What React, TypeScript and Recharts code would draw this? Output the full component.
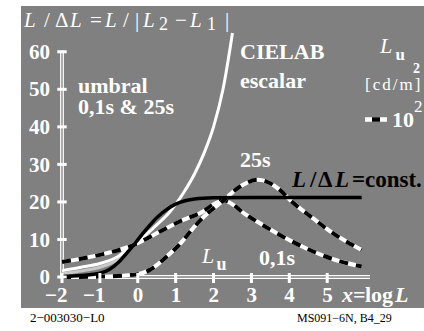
import React from 'react';
import { LineChart, Line, XAxis, YAxis } from 'recharts';

const xTicks = [-2, -1, 0, 1, 2, 3, 4, 5];
const xTickLabels = ['−2', '−1', '0', '1', '2', '3', '4', '5'];
const yTicks = [0, 10, 20, 30, 40, 50, 60];

const cielabX = [-2, -1.5, -1, -0.5, -0.2, 0.15, 0.5, 0.85, 1.2, 1.5, 1.75, 2, 2.25, 2.5];
const cielabY = [1.7, 2.6, 3.6, 5.6, 8.1, 10.7, 13.9, 17.4, 22.3, 27.5, 33, 40, 50, 65];

const grayX = [-2, -1.5, -1, -0.5, -0.2];
const grayY = [0.9, 1.6, 2.6, 4.8, 7.6];

const constX = [-2, -1.5, -1, -0.75, -0.5, -0.25, 0, 0.25, 0.5, 0.75, 1, 1.25, 1.5, 2, 3, 4, 5, 5.91];
const constY = [0.1, 0.4, 1.0, 2.0, 4.0, 6.8, 9.9, 13.0, 15.8, 17.9, 19.4, 20.3, 20.8, 21.1, 21.2, 21.2, 21.2, 21.2];

const s01X = [-2, -1, -0.12, 0.59, 1.11, 1.64, 2.26, 2.87, 3.75, 4.63, 5.2, 5.91];
const s01Y = [4.0, 5.9, 8.5, 12.1, 14.8, 17, 20.4, 16.5, 11.2, 6.8, 4.6, 2.8];

const s25X = [-2, -1, -0.03, 0.32, 0.76, 1.11, 1.42, 1.64, 2.26, 2.7, 3.18, 3.75, 4.02, 4.63, 5.16, 5.91];
const s25Y = [0, 0.1, 0.7, 1.9, 5.4, 8.8, 12.5, 15, 20.4, 24.1, 25.9, 23.2, 20.5, 15.6, 11.6, 7.2];

const xAxisX = [-2, 6.13];
const xAxisY = [0, 0];
const yAxisX = [-2, -2];
const yAxisY = [0, 60.3];

const zip = (xs: number[], ys: number[]) => xs.map((x, i) => ({ x, y: ys[i] }));

const cielab = zip(cielabX, cielabY);
const gray = zip(grayX, grayY);
const constLine = zip(constX, constY);
const s01 = zip(s01X, s01Y);
const s25 = zip(s25X, s25Y);
const xAxisLine = zip(xAxisX, xAxisY);
const yAxisLine = zip(yAxisX, yAxisY);

const FONT = '"Liberation Serif", "Times New Roman", "DejaVu Serif", serif';
const GRAY = '#808080';
const ts: React.CSSProperties = { fontFamily: FONT };

const XTick = (props: any) => {
  const { x, y, payload } = props;
  const label = xTickLabels[xTicks.indexOf(payload.value)] ?? String(payload.value);
  return (
    <g>
      <rect x={x - 1.5} y={y - 4} width={3} height={10} fill="#fff" />
      <text x={x + 5.5} y={y + 25} textAnchor="end" fill="#fff" style={ts} fontWeight="bold" fontSize={21}>
        {label}
      </text>
    </g>
  );
};

const YTick = (props: any) => {
  const { x, y, payload } = props;
  return (
    <g>
      <rect x={x - 4.7} y={y - 1.5} width={9.4} height={3} fill="#fff" />
      <text x={x - 12} y={y} dy="0.34em" textAnchor="end" fill="#fff" style={ts} fontWeight="bold" fontSize={21}>
        {payload.value}
      </text>
    </g>
  );
};

const lineProps = { dataKey: 'y', dot: false, isAnimationActive: false, activeDot: false } as const;

export default function App() {
  return (
    <div style={{ position: 'absolute', left: 0, top: 0, width: 424, height: 331, background: '#fff', overflow: 'hidden' }}>
      <div style={{ position: 'absolute', left: 21, top: 6, width: 403, height: 302, background: GRAY }} />
      <div style={{ position: 'absolute', left: 0, top: 0 }}>
        <LineChart width={424} height={331} margin={{ top: 33, right: 54, bottom: 0, left: 0 }}>
          <XAxis
            type="number"
            dataKey="x"
            domain={[-2, 6.13]}
            ticks={xTicks}
            height={54}
            tickSize={0}
            tickMargin={0}
            axisLine={false}
            tickLine={false}
            tick={<XTick />}
            interval={0}
          />
          <YAxis
            type="number"
            domain={[0, 65]}
            ticks={yTicks}
            width={62}
            tickSize={0}
            tickMargin={0}
            axisLine={false}
            tickLine={false}
            tick={<YTick />}
            interval={0}
          />
          <Line {...lineProps} data={xAxisLine} type="linear" stroke="#fff" strokeWidth={3.8} />
          <Line {...lineProps} data={xAxisLine} type="linear" stroke={GRAY} strokeWidth={1.3} />
          <Line {...lineProps} data={yAxisLine} type="linear" stroke="#fff" strokeWidth={3.8} />
          <Line {...lineProps} data={yAxisLine} type="linear" stroke={GRAY} strokeWidth={1.3} />
          <Line {...lineProps} data={gray} type="monotone" stroke="#c8c8c8" strokeWidth={3} />
          <Line {...lineProps} data={cielab} type="monotone" stroke="#fff" strokeWidth={3} />
          <Line {...lineProps} data={s01} type="monotone" stroke="#fff" strokeWidth={4} />
          <Line {...lineProps} data={s01} type="monotone" stroke="#000" strokeWidth={4} strokeDasharray="9 8" />
          <Line {...lineProps} data={s25} type="monotone" stroke="#fff" strokeWidth={4} />
          <Line {...lineProps} data={s25} type="monotone" stroke="#000" strokeWidth={4} strokeDasharray="9 8" />
          <Line {...lineProps} data={constLine} type="monotone" stroke="#000" strokeWidth={3.5} />
        </LineChart>
      </div>
      <svg width={424} height={331} style={{ position: 'absolute', left: 0, top: 0, pointerEvents: 'none', fontFamily: FONT }}>
        <text y={27} fill="#fff" fontSize={21} style={ts}>
          <tspan x={24} fontStyle="italic">L</tspan>
          <tspan x={44}>/</tspan>
          <tspan x={55}>Δ</tspan>
          <tspan x={70} fontStyle="italic">L</tspan>
          <tspan x={90}>=</tspan>
          <tspan x={105} fontStyle="italic">L</tspan>
          <tspan x={123}>/</tspan>
          <tspan x={135}>|</tspan>
          <tspan x={143} fontStyle="italic">L</tspan>
          <tspan x={159} fontSize={18} dy={3}>2</tspan>
          <tspan x={175} dy={-3}>−</tspan>
          <tspan x={190} fontStyle="italic">L</tspan>
          <tspan x={207} fontSize={18} dy={3}>1</tspan>
          <tspan x={225} dy={-3}>|</tspan>
        </text>
        <text x={240} y={59} fill="#fff" fontSize={22} fontWeight="bold" style={ts}>CIELAB</text>
        <text x={240} y={88} fill="#fff" fontSize={22} fontWeight="bold" style={ts}>escalar</text>
        <text x={78} y={92.5} fill="#fff" fontSize={22} fontWeight="bold" style={ts}>umbral</text>
        <text x={78} y={113.5} fill="#fff" fontSize={22} fontWeight="bold" style={ts}>0,1s &amp; 25s</text>
        <text x={240} y={166.5} fill="#fff" fontSize={22} fontWeight="bold" style={ts}>25s</text>
        <text y={187} fill="#000" fontSize={23} fontWeight="bold" style={ts}>
          <tspan x={292} fontStyle="italic">L</tspan>
          <tspan x={310}>/</tspan>
          <tspan x={318}>Δ</tspan>
          <tspan x={335} fontStyle="italic">L</tspan>
          <tspan x={352}>=</tspan>
          <tspan x={365}>const.</tspan>
        </text>
        <text y={263} fill="#fff" fontSize={22} style={ts}>
          <tspan x={202} fontStyle="italic">L</tspan>
          <tspan x={216.5} fontWeight="bold" fontSize={18} dy={7}>u</tspan>
        </text>
        <text x={259} y={265} fill="#fff" fontSize={22} fontWeight="bold" style={ts}>0,1s</text>
        <text y={53} fill="#fff" fontSize={22} style={ts}>
          <tspan x={380} fontStyle="italic">L</tspan>
          <tspan x={395.5} fontWeight="bold" fontSize={17} dy={7}>u</tspan>
        </text>
        <text x={413} y={73} fill="#fff" fontSize={14} fontWeight="bold" style={ts}>2</text>
        <text x={365} y={90} fill="#fff" fontSize={17} letterSpacing={2} style={ts}>[cd/m]</text>
        <line x1={365} y1={119.5} x2={387} y2={119.5} stroke="#fff" strokeWidth={4.5} />
        <line x1={372} y1={119.5} x2={380} y2={119.5} stroke="#000" strokeWidth={4.5} />
        <text x={392} y={127} fill="#fff" fontSize={22} fontWeight="bold" style={ts}>10</text>
        <text x={414} y={112} fill="#fff" fontSize={17} style={ts}>2</text>
        <text y={302} fill="#fff" fontSize={22} fontWeight="bold" style={ts}>
          <tspan x={342} fontStyle="italic">x</tspan>
          <tspan x={353}>=</tspan>
          <tspan x={365}>log</tspan>
          <tspan x={395} fontStyle="italic">L</tspan>
        </text>
        <text x={30} y={322} fill="#000" fontSize={13} style={ts}>2−003030−L0</text>
        <text x={297} y={322} fill="#000" fontSize={12} style={ts}>MS091−6N, B4_29</text>
      </svg>
    </div>
  );
}
